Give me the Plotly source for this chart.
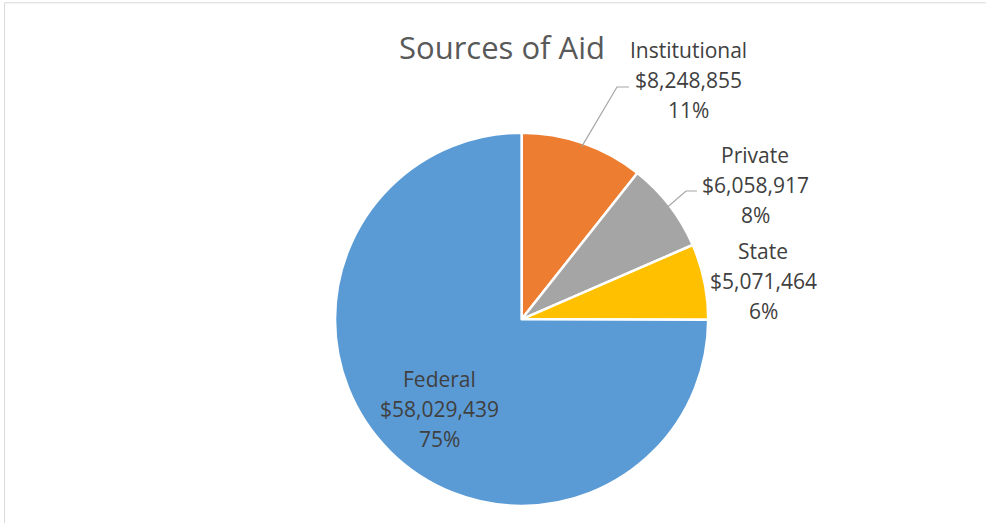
import math
import plotly.graph_objects as go

# Aid amounts by source (dollars), in clockwise order from 12 o'clock
sources = ["Institutional", "Private", "State", "Federal"]
amounts = [8248855, 6058917, 5071464, 58029439]
pct_labels = ["11%", "8%", "6%", "75%"]
colors = ["#ED7D31", "#A5A5A5", "#FFC000", "#5B9BD5"]

W, H = 986, 523
CX, CY, R = 521.6, 319.3, 186.6   # pie centre / radius in pixels
LINE_GAP = 29.7                    # spacing between label lines (px)


def px(x, y):
    """pixel -> paper coordinates"""
    return x / W, 1 - y / H


fig = go.Figure(go.Pie(
    labels=sources,
    values=amounts,
    sort=False,
    direction="clockwise",
    rotation=0,
    textinfo="none",
    hoverinfo="label+value+percent",
    marker=dict(colors=colors, line=dict(color="white", width=2.5)),
    domain=dict(x=[(CX - R) / W, (CX + R) / W],
                y=[1 - (CY + R) / H, 1 - (CY - R) / H]),
    showlegend=False,
))

# Mid-angle of each slice (degrees clockwise from 12 o'clock)
total = sum(amounts)
mids = []
acc = 0
for v in amounts:
    mids.append((acc + v / 2) / total * 360)
    acc += v


def arc_point(angle_deg, r=R):
    a = math.radians(angle_deg)
    return CX + r * math.sin(a), CY - r * math.cos(a)


# Label block centres (pixels)
label_pos = {
    "Institutional": (688, 80),
    "Private": (755, 185),
    "State": (763, 281),
    "Federal": (439, 409),
}

annotations = []
for name, amt, pct in zip(sources, amounts, pct_labels):
    lx, ly = label_pos[name]
    for k, line in enumerate([name, f"${amt:,.0f}", pct]):
        x, y = px(lx, ly + (k - 1) * LINE_GAP)
        annotations.append(dict(
            x=x, y=y, xref="paper", yref="paper",
            xanchor="center", yanchor="middle",
            text=line, showarrow=False, align="center",
            font=dict(family="Open Sans, sans-serif", size=21, color="#404040"),
        ))

# Leader lines for the two labels set away from their slices
shapes = []
leaders = {
    "Institutional": [(617, 87), (629, 87)],
    "Private": [(686, 191), (697, 191)],
}
for name, pts in leaders.items():
    i = sources.index(name)
    sx, sy = arc_point(mids[i], R - 4)
    path_pts = [(sx, sy)] + pts
    d = "M " + " L ".join(f"{px(a, b)[0]},{px(a, b)[1]}" for a, b in path_pts)
    shapes.append(dict(type="path", path=d, xref="paper", yref="paper",
                       line=dict(color="#A6A6A6", width=1.2)))

# Chart area border
shapes.append(dict(type="rect", xref="paper", yref="paper",
                   x0=4.5 / W, x1=1.2, y0=-0.2, y1=1 - 2.8 / H,
                   line=dict(color="#D9D9D9", width=1), fillcolor="rgba(0,0,0,0)",
                   layer="below"))

fig.update_layout(
    width=W, height=H,
    margin=dict(l=0, r=0, t=0, b=0),
    paper_bgcolor="white",
    title=dict(text="Sources of Aid", x=502 / W, xanchor="center",
               y=1 - 48 / H, yanchor="middle",
               font=dict(family="Open Sans, sans-serif", size=31, color="#595959")),
    annotations=annotations,
    shapes=shapes,
)

fig.write_html("out.html")
